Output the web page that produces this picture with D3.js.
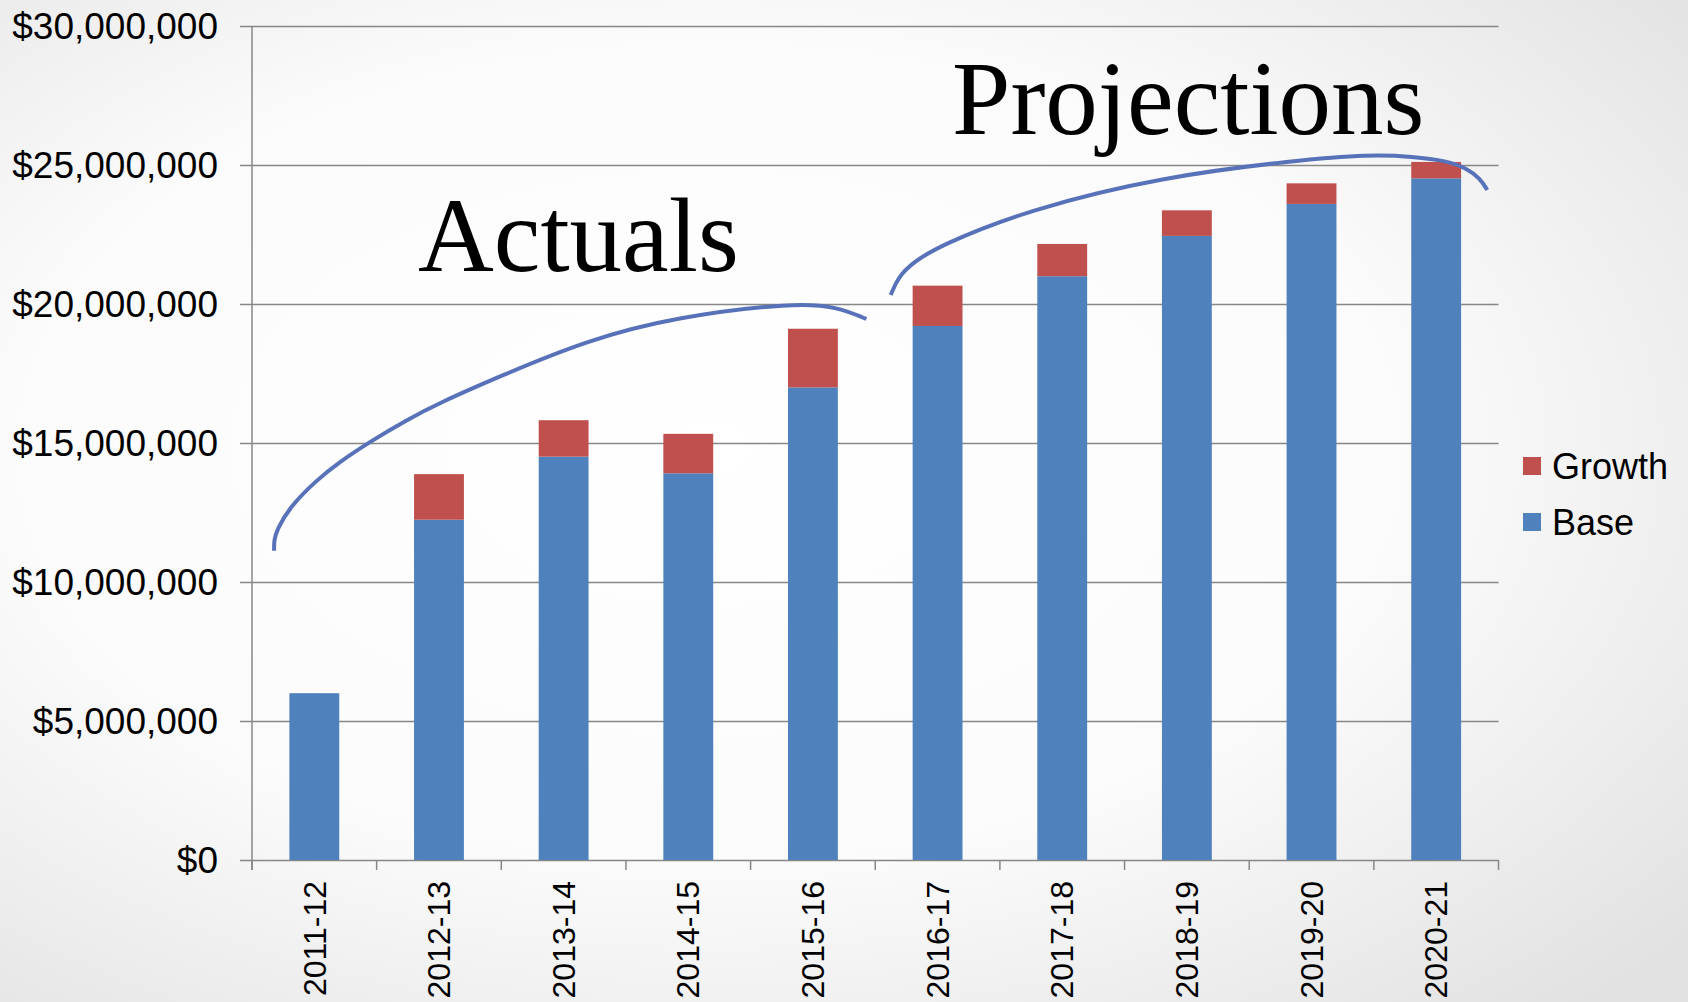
<!DOCTYPE html>
<html>
<head>
<meta charset="utf-8">
<script src="https://cdn.jsdelivr.net/npm/d3@7/dist/d3.min.js"></script>
<style>
  html, body { margin: 0; padding: 0; overflow: hidden; }
  body { width: 1688px; height: 1002px; }
  svg text { font-family: "Liberation Sans", Arial, sans-serif; fill: #000; }
  .note { font-family: "Liberation Serif", "Times New Roman", serif; }
</style>
</head>
<body>
<div id="chart"></div>
<script>
// fiscal years on the x axis
const years = ['2011-12', '2012-13', '2013-14', '2014-15', '2015-16',
  '2016-17', '2017-18', '2018-19', '2019-20', '2020-21'];
// stacked series, in dollars
const base = [6000000, 12240000, 14510000, 13910000, 17000000,
  19210000, 21000000, 22450000, 23600000, 24520000];
const growth = [0, 1640000, 1310000, 1420000, 2110000,
  1450000, 1160000, 920000, 740000, 590000];
const yTicks = [0, 5000000, 10000000, 15000000, 20000000, 25000000, 30000000];
const seriesNames = ['Growth', 'Base'];

// hand-drawn brackets over the bars: [category position, value in $M]
const actualsArc = [[0.177, 11.12], [0.177, 11.50], [0.198, 11.87], [0.305, 12.71], [0.519, 13.67],
  [0.706, 14.33], [0.947, 15.05], [1.241, 15.83], [1.508, 16.45], [1.973, 17.37],
  [2.688, 18.70], [3.405, 19.54], [4.354, 20.05], [4.693, 19.90], [4.929, 19.46], [4.929, 19.46]];
const projectionsArc = [[5.124, 20.32], [5.124, 20.32], [5.185, 20.98], [5.305, 21.50], [5.515, 22.10],
  [6.230, 23.40], [7.304, 24.58], [8.379, 25.17], [8.969, 25.38], [9.317, 25.30],
  [9.585, 25.15], [9.745, 24.88], [9.852, 24.52], [9.910, 24.10], [9.910, 24.10]];

const width = 1688, height = 1002;
const margin = { top: 26, left: 252, bottom: 142, right: 189.5 };
const w = width - margin.left - margin.right;
const h = height - margin.top - margin.bottom;

const color = d3.scaleOrdinal().domain(seriesNames).range(['#C0504D', '#4F81BD']);

const svg = d3.select('#chart').append('svg')
  .attr('width', width)
  .attr('height', height);

// slide background
const grad = svg.append('defs').append('radialGradient')
  .attr('id', 'bg')
  .attr('cx', '42%').attr('cy', '45%').attr('r', '75%');
grad.append('stop').attr('offset', '0%').attr('stop-color', '#ffffff');
grad.append('stop').attr('offset', '55%').attr('stop-color', '#fbfbfb');
grad.append('stop').attr('offset', '100%').attr('stop-color', '#e2e2e2');
svg.append('rect').attr('width', width).attr('height', height).attr('fill', 'url(#bg)');

const g = svg.append('g')
  .attr('transform', 'translate(' + margin.left + ',' + margin.top + ')');

const x = d3.scaleBand()
  .domain(years)
  .range([0, w])
  .paddingInner(0.6)
  .paddingOuter(0.3);
const xPos = d3.scaleLinear().domain([0, years.length]).range([0, w]);
const y = d3.scaleLinear().domain([0, 30000000]).range([h, 0]);
const yM = d3.scaleLinear().domain([0, 30]).range([h, 0]);

// gridlines + y axis
const yAxis = g.append('g')
  .call(d3.axisLeft(y)
    .tickValues(yTicks)
    .tickSize(-(w + 12))
    .tickPadding(22)
    .tickFormat(d => '$' + d3.format(',')(d)));
yAxis.select('.domain').remove();
yAxis.selectAll('.tick line')
  .attr('x1', -12)
  .attr('x2', w)
  .attr('stroke', '#878787')
  .attr('stroke-width', 1.5);
yAxis.selectAll('.tick text')
  .attr('x', -34)
  .attr('dy', '0.35em')
  .style('font-size', '37px');

g.append('line')
  .attr('x1', 0).attr('x2', 0)
  .attr('y1', 0).attr('y2', h + 10)
  .attr('stroke', '#878787')
  .attr('stroke-width', 1.5);

// x axis: ticks on category boundaries
const xAxis = g.append('g').attr('transform', 'translate(0,' + h + ')');
xAxis.selectAll('line.xt')
  .data(d3.range(years.length + 1))
  .enter().append('line')
  .attr('class', 'xt')
  .attr('x1', d => xPos(d)).attr('x2', d => xPos(d))
  .attr('y1', 0).attr('y2', 10)
  .attr('stroke', '#878787')
  .attr('stroke-width', 1.5);
xAxis.selectAll('text')
  .data(years)
  .enter().append('text')
  .attr('transform', d => 'translate(' + (x(d) + x.bandwidth() / 2) + ',21) rotate(-90)')
  .attr('text-anchor', 'end')
  .attr('dy', '0.35em')
  .style('font-size', '32px')
  .text(d => d);

// stacked bars
const rows = years.map((yr, i) => ({ year: yr, Base: base[i], Growth: growth[i] }));
const stack = d3.stack().keys(['Base', 'Growth'])(rows);

g.selectAll('g.series')
  .data(stack)
  .enter().append('g')
  .attr('class', 'series')
  .attr('fill', d => color(d.key))
  .selectAll('rect')
  .data(d => d.filter(p => p[1] > p[0]))
  .enter().append('rect')
  .attr('x', d => x(d.data.year))
  .attr('width', x.bandwidth())
  .attr('y', d => y(d[1]))
  .attr('height', d => y(d[0]) - y(d[1]));

// annotation brackets
const arcLine = d3.line()
  .x(d => xPos(d[0]))
  .y(d => yM(d[1]))
  .curve(d3.curveBasis);

[actualsArc, projectionsArc].forEach(pts => {
  g.append('path')
    .attr('d', arcLine(pts))
    .attr('fill', 'none')
    .attr('stroke', '#5872BA')
    .attr('stroke-width', 4)
    .attr('stroke-linecap', 'butt');
});

svg.append('text')
  .attr('class', 'note')
  .attr('x', 418)
  .attr('y', 271)
  .style('font-size', '105px')
  .text('Actuals');

svg.append('text')
  .attr('class', 'note')
  .attr('x', 952)
  .attr('y', 134)
  .style('font-size', '105px')
  .text('Projections');

// legend
const legend = svg.selectAll('.legend')
  .data(seriesNames)
  .enter().append('g')
  .attr('class', 'legend')
  .attr('transform', (d, i) => 'translate(1523,' + (466 + i * 56) + ')');

legend.append('rect')
  .attr('y', -9)
  .attr('width', 18)
  .attr('height', 18)
  .attr('fill', d => color(d));

legend.append('text')
  .attr('x', 29)
  .attr('dy', '0.35em')
  .style('font-size', '36px')
  .text(d => d);
</script>
</body>
</html>
